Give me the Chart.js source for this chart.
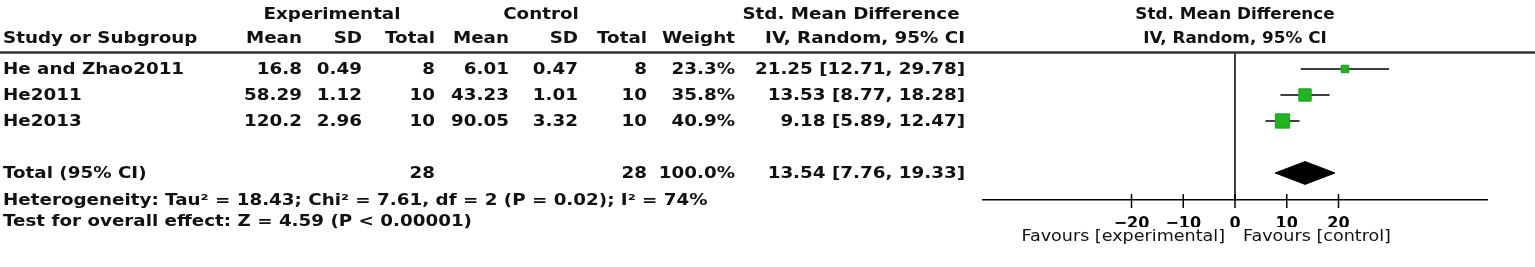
<!DOCTYPE html>
<html>
<head>
<meta charset="utf-8">
<script src="https://cdn.jsdelivr.net/npm/chart.js@4.4.0/dist/chart.umd.min.js"></script>
<style>
  html, body { margin: 0; padding: 0; background: #fff; }
  canvas { display: block; }
</style>
</head>
<body>
<canvas id="forest" width="1535" height="267"></canvas>
<script>
/* forest plot - std. mean difference, random effects */

const studies = ["He and Zhao2011", "He2011", "He2013"];
const expMean = ["16.8", "58.29", "120.2"];
const expSD = ["0.49", "1.12", "2.96"];
const expN = [8, 10, 10];
const ctlMean = ["6.01", "43.23", "90.05"];
const ctlSD = ["0.47", "1.01", "3.32"];
const ctlN = [8, 10, 10];
const weights = [23.3, 35.8, 40.9];
const smd = [21.25, 13.53, 9.18];
const ciLow = [12.71, 8.77, 5.89];
const ciHigh = [29.78, 18.28, 12.47];

const totalLabel = "Total (95% CI)";
const totalExpN = 28;
const totalCtlN = 28;
const totalWeight = 100.0;
const totalSmd = 13.54;
const totalLow = 7.76;
const totalHigh = 19.33;

const heterogeneity = "Heterogeneity: Tau\u00b2 = 18.43; Chi\u00b2 = 7.61, df = 2 (P = 0.02); I\u00b2 = 74%";
const overallTest = "Test for overall effect: Z = 4.59 (P < 0.00001)";
const xTicks = [-20, -10, 0, 10, 20];
const favours = ["Favours [experimental]", "Favours [control]"];

/* layout */
const TOTAL_ROW = studies.length + 2;
const FONT = '"DejaVu Sans", sans-serif';
const SX_TABLE = 1.22;
const INK = "#111";

const fmtCI = (e, l, h) => `${e.toFixed(2)} [${l.toFixed(2)}, ${h.toFixed(2)}]`;

function txt(ctx, s, x, y, align, bold, sx) {
  ctx.save();
  ctx.font = (bold ? "bold " : "") + "15px " + FONT;
  ctx.fillStyle = INK;
  ctx.textAlign = align;
  ctx.textBaseline = "alphabetic";
  ctx.translate(x, y);
  ctx.scale(sx, 1);
  ctx.fillText(s, 0, 0);
  ctx.restore();
}

// table + decorations
const forestPlugin = {
  id: "forest",
  beforeDatasetsDraw(chart) {
    const { ctx, scales: { x }, chartArea } = chart;
    const x0 = x.getPixelForValue(0);
    ctx.save();
    ctx.strokeStyle = "#000";
    ctx.lineWidth = 1.5;
    ctx.beginPath();
    ctx.moveTo(x0, chartArea.top);
    ctx.lineTo(x0, chartArea.bottom);
    ctx.stroke();
    // tick marks crossing the axis
    x.ticks.forEach(t => {
      const px = x.getPixelForValue(t.value);
      ctx.beginPath();
      ctx.moveTo(px, chartArea.bottom - 6);
      ctx.lineTo(px, chartArea.bottom + 8);
      ctx.stroke();
    });
    ctx.restore();
  },
  afterDraw(chart) {
    const { ctx, scales: { x, y } } = chart;

    // header rule
    ctx.save();
    ctx.strokeStyle = "#333";
    ctx.lineWidth = 2.5;
    ctx.beginPath();
    ctx.moveTo(0, 52.5);
    ctx.lineTo(chart.width, 52.5);
    ctx.stroke();
    ctx.restore();

    const S = SX_TABLE;
    // headers
    txt(ctx, "Experimental", 332, 19, "center", true, S);
    txt(ctx, "Control", 541, 19, "center", true, S);
    txt(ctx, "Std. Mean Difference", 851, 19, "center", true, S);
    txt(ctx, "Study or Subgroup", 3, 43, "left", true, S);
    txt(ctx, "Mean", 302, 43, "right", true, S);
    txt(ctx, "SD", 362, 43, "right", true, S);
    txt(ctx, "Total", 435, 43, "right", true, S);
    txt(ctx, "Mean", 509, 43, "right", true, S);
    txt(ctx, "SD", 578, 43, "right", true, S);
    txt(ctx, "Total", 647, 43, "right", true, S);
    txt(ctx, "Weight", 735, 43, "right", true, S);
    txt(ctx, "IV, Random, 95% CI", 965, 43, "right", true, S);

    const x0 = x.getPixelForValue(0);
    txt(ctx, "Std. Mean Difference", x0, 19, "center", true, 1.12);
    txt(ctx, "IV, Random, 95% CI", x0, 43, "center", true, 1.12);

    // study rows
    studies.forEach((name, i) => {
      const by = y.getPixelForValue(i + 1) + 5.5;
      txt(ctx, name, 3, by, "left", true, S);
      txt(ctx, expMean[i], 302, by, "right", true, S);
      txt(ctx, expSD[i], 362, by, "right", true, S);
      txt(ctx, String(expN[i]), 435, by, "right", true, S);
      txt(ctx, ctlMean[i], 509, by, "right", true, S);
      txt(ctx, ctlSD[i], 578, by, "right", true, S);
      txt(ctx, String(ctlN[i]), 647, by, "right", true, S);
      txt(ctx, weights[i].toFixed(1) + "%", 735, by, "right", true, S);
      txt(ctx, fmtCI(smd[i], ciLow[i], ciHigh[i]), 965, by, "right", true, S);
    });

    // total row
    const ty = y.getPixelForValue(TOTAL_ROW) + 5;
    txt(ctx, totalLabel, 3, ty, "left", true, S);
    txt(ctx, String(totalExpN), 435, ty, "right", true, S);
    txt(ctx, String(totalCtlN), 647, ty, "right", true, S);
    txt(ctx, totalWeight.toFixed(1) + "%", 735, ty, "right", true, S);
    txt(ctx, fmtCI(totalSmd, totalLow, totalHigh), 965, ty, "right", true, S);

    txt(ctx, heterogeneity, 3, 205, "left", true, S);
    txt(ctx, overallTest, 3, 226, "left", true, S);

    // favours labels
    txt(ctx, favours[0], x0 - 10, 241, "right", false, 1.17);
    txt(ctx, favours[1], x0 + 8, 241, "left", false, 1.17);
  }
};

const DIAMOND_H = 0.44;

const datasets = [
  {
    label: "studies",
    data: studies.map((s, i) => ({ x: smd[i], y: i + 1 })),
    pointStyle: "rect",
    pointRadius: ctx => (0.386 * weights[ctx.dataIndex] - 1.5) / Math.SQRT2,
    backgroundColor: "#1fb51f",
    borderColor: "#17a017",
    borderWidth: 1,
    showLine: false,
    order: 0
  },
  {
    label: "pooled",
    data: [
      { x: totalLow, y: TOTAL_ROW },
      { x: totalSmd, y: TOTAL_ROW - DIAMOND_H },
      { x: totalHigh, y: TOTAL_ROW },
      { x: totalSmd, y: TOTAL_ROW + DIAMOND_H },
      { x: totalLow, y: TOTAL_ROW }
    ],
    showLine: true,
    fill: "shape",
    backgroundColor: "#000",
    borderColor: "#000",
    borderWidth: 1,
    pointRadius: 0,
    tension: 0,
    order: 1
  }
];
studies.forEach((s, i) => {
  datasets.push({
    label: "ci " + s,
    data: [{ x: ciLow[i], y: i + 1 }, { x: ciHigh[i], y: i + 1 }],
    showLine: true,
    borderColor: "#000",
    borderWidth: 1.5,
    pointRadius: 0,
    fill: false,
    order: 2
  });
});

new Chart(document.getElementById("forest").getContext("2d"), {
  type: "scatter",
  data: { datasets },
  options: {
    responsive: false,
    animation: false,
    devicePixelRatio: 1,
    events: [],
    layout: { padding: { left: 983, right: 48, top: 53, bottom: 40 } },
    plugins: { legend: { display: false }, tooltip: { enabled: false } },
    scales: {
      x: {
        type: "linear",
        min: -48.7,
        max: 48.7,
        afterBuildTicks: s => { s.ticks = xTicks.map(v => ({ value: v })); },
        afterFit: s => { s.height = 27; },
        grid: { display: false },
        border: { display: true, color: "#000", width: 1.5 },
        ticks: {
          padding: 6,
          color: "#000",
          autoSkip: false,
          maxRotation: 0,
          font: { family: FONT, size: 16, weight: "bold" },
          callback: v => (v < 0 ? "\u2212" + Math.abs(v) : String(v))
        }
      },
      y: {
        type: "linear",
        display: false,
        reverse: true,
        min: 0.385,
        max: 6.04
      }
    }
  },
  plugins: [forestPlugin]
});
</script>
</body>
</html>
